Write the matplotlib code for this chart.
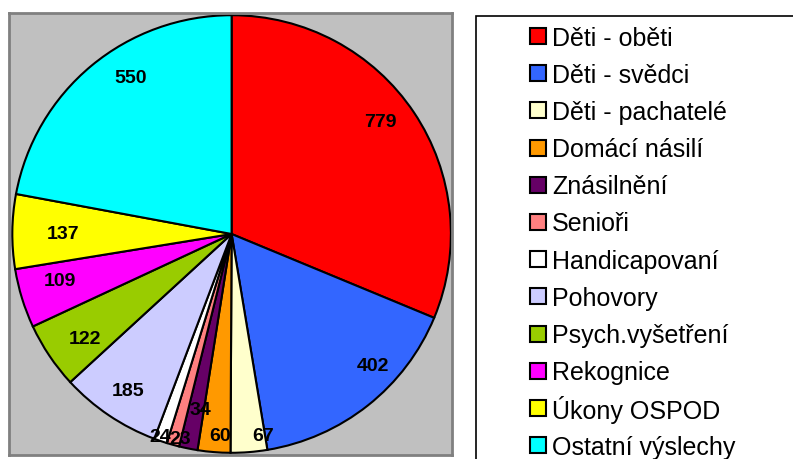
import numpy as np
import matplotlib.pyplot as plt
from matplotlib.patches import Rectangle

plt.rcParams['font.family'] = ['Liberation Sans', 'DejaVu Sans']

categories = ['Děti - oběti', 'Děti - svědci', 'Děti - pachatelé', 'Domácí násilí',
              'Znásilnění', 'Senioři', 'Handicapovaní', 'Pohovory',
              'Psych.vyšetření', 'Rekognice', 'Úkony OSPOD', 'Ostatní výslechy']
values = [779, 402, 67, 60, 34, 23, 24, 185, 122, 109, 137, 550]
colors = ['#FF0000', '#3366FF', '#FFFFCC', '#FF9900', '#660066', '#FF8080',
          '#FFFFFF', '#CCCCFF', '#99CC00', '#FF00FF', '#FFFF00', '#00FFFF']
# value label placement: radius (fraction of pie radius), clockwise nudge in degrees
label_r = [0.85, 0.885, 0.937, 0.928, 0.82, 0.97, 0.986, 0.861, 0.827, 0.81, 0.77, 0.848]
label_nudge = [-3.2, -8.3, -4.2, -1.5, -1.5, -1.6, 0.3, -0.9, -2.0, 1.7, -0.9, 6.8]

W, H = 793, 459
fig = plt.figure(figsize=(W / 100, H / 100), dpi=100)

# pie plot area (grey box)
ax = fig.add_axes([9 / W, (H - 455) / H, 443 / W, 442 / H])
ax.set_facecolor('#C0C0C0')
wedges, _ = ax.pie(values, colors=colors, startangle=90, counterclock=False,
                   radius=0.99, center=(0.005, 0),
                   wedgeprops=dict(edgecolor='black', linewidth=1.5))
ax.set_frame_on(True)
for s in ax.spines.values():
    s.set_color('#808080')
    s.set_linewidth(2)
ax.set_xlim(-1, 1)
ax.set_ylim(-1, 1)
ax.set_aspect('auto')
ax.set_xticks([])
ax.set_yticks([])

for w, v, r, d in zip(wedges, values, label_r, label_nudge):
    ang = np.deg2rad((w.theta1 + w.theta2) / 2 - d)
    ax.text(0.005 + r * 0.99 * np.cos(ang), r * 0.99 * np.sin(ang), str(v),
            ha='center', va='center', fontsize=14, fontweight='bold')

# legend box
fig.patches.append(Rectangle((476 / W, -0.1), 1, (H - 16) / H + 0.1,
                             transform=fig.transFigure, fill=False,
                             edgecolor='black', linewidth=1.2))
for i, (lab, c) in enumerate(zip(categories, colors)):
    yc = 36 + i * 37.2
    fig.patches.append(Rectangle((530 / W, (H - yc - 8) / H), 16 / W, 16 / H,
                                 transform=fig.transFigure, facecolor=c,
                                 edgecolor='black', linewidth=1.5))
    fig.text(552 / W, (H - yc) / H, lab, ha='left', va='center_baseline',
             fontsize=18)

fig.savefig('out.png', dpi=100)
